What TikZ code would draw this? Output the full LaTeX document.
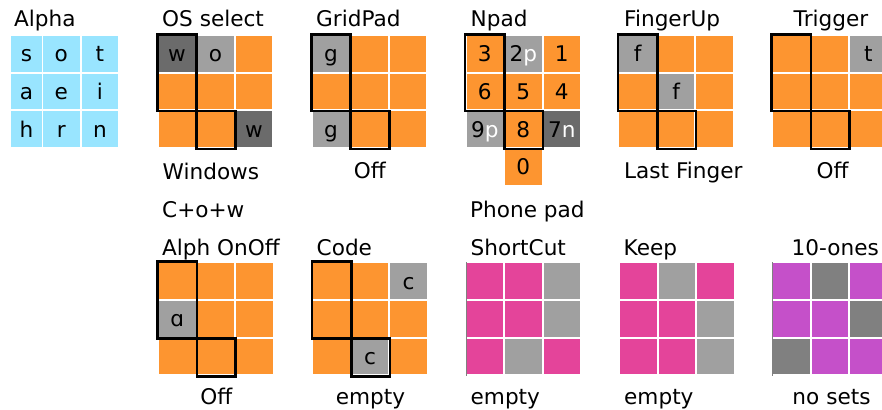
\documentclass[tikz,border=0pt]{standalone}
\usepackage{fontspec}
\setmainfont{DejaVu Sans}
\definecolor{kblue}{HTML}{99E5FF}
\definecolor{korange}{HTML}{FD9530}
\definecolor{kgrey}{HTML}{A0A0A0}
\definecolor{kdark}{HTML}{6B6B6B}
\definecolor{kmid}{HTML}{808080}
\definecolor{kpink}{HTML}{E4449A}
\definecolor{kpurple}{HTML}{C550C9}
\tikzset{
  cellbox/.style={inner sep=0pt, minimum width=36.5pt, minimum height=35.6pt,
    text height=16pt, text depth=0pt, font=\fontsize{21.6}{24}\selectfont},
  lbl/.style={inner sep=0pt, anchor=base west, font=\fontsize{21.6}{24}\selectfont},
  clbl/.style={inner sep=0pt, anchor=base, font=\fontsize{21.6}{24}\selectfont},
  outl/.style={line width=2.6pt, line join=miter, black},
  edgeln/.style={line width=0.8pt, gray}
}
\newcommand\kgrid[4]{%
  \foreach \cx/\ry/\fc/\tx in {#4} {%
    \node[cellbox, fill=\fc] (#1-\cx-\ry) at ({#2+18.25+(\cx-1)*38.5},{#3+17.8+(\ry-1)*37.7}) {\tx};}}
\newcommand\koutl[3]{%
  \draw[outl] (#2-1.4,#3+75) -- (#2-1.4,#3-1.7) -- (#2+38,#3-1.7) -- (#2+38,#3+113)
    -- (#2+76.6,#3+113) -- (#2+76.6,#3+75) -- cycle;}
\newcommand\kwp{\textcolor{white}{p}}
\newcommand\kwn{\textcolor{white}{n}}
\begin{document}
\begin{tikzpicture}[x=1pt,y=-1pt]
\useasboundingbox[fill=white] (0,0) rectangle (882,409);
% ---------- Alpha ----------
\foreach \ry/\tx in {1/s,2/a,3/h}
  \node[cellbox, fill=kblue, minimum width=31pt] (al-1-\ry) at (26.5,{36+17.8+(\ry-1)*37.7}) {\tx};
\kgrid{al}{4.6}{36}{2/1/kblue/o,3/1/kblue/t,2/2/kblue/e,3/2/kblue/i,2/3/kblue/r,3/3/kblue/n}
\node[lbl] (tAlpha) at (14,27) {Alpha};
% ---------- OS select ----------
\kgrid{os}{158.7}{36}{1/1/kdark/w,2/1/kgrey/o,3/1/korange/{},1/2/korange/{},2/2/korange/{},3/2/korange/{},1/3/korange/{},2/3/korange/{},3/3/kdark/w}
\koutl{os}{158.7}{36}
\node[lbl] (tOS) at (162,27) {OS select};
\node[lbl] (tWin) at (162.5,179) {Windows};
\node[lbl] (tCow) at (162,217) {C+o+w};
% ---------- GridPad ----------
\kgrid{gp}{312.7}{36}{1/1/kgrey/g,2/1/korange/{},3/1/korange/{},1/2/korange/{},2/2/korange/{},3/2/korange/{},1/3/kgrey/g,2/3/korange/{},3/3/korange/{}}
\koutl{gp}{312.7}{36}
\node[lbl] (tGP) at (316,27) {GridPad};
\node[clbl] (tGPoff) at (369.7,178.5) {Off};
% ---------- Npad ----------
\kgrid{np}{466.5}{36}{1/1/korange/3,2/1/kgrey/{2\kwp},3/1/korange/1,1/2/korange/6,2/2/korange/5,3/2/korange/4,1/3/kgrey/{9\kwp},2/3/korange/8,3/3/kdark/{7\kwn},2/4/korange/0}
\koutl{np}{466.5}{36}
\node[lbl] (tNP) at (470.5,27) {Npad};
\node[lbl] (tPhone) at (470,217) {Phone pad};
% ---------- FingerUp ----------
\kgrid{fu}{619.3}{36}{1/1/kgrey/f,2/1/korange/{},3/1/korange/{},1/2/korange/{},2/2/kgrey/f,3/2/korange/{},1/3/korange/{},2/3/korange/{},3/3/korange/{}}
\koutl{fu}{619.3}{36}
\node[lbl] (tFU) at (624,27) {FingerUp};
\node[lbl] (tLF) at (624,178.5) {Last Finger};
% ---------- Trigger ----------
\kgrid{tr}{773}{36}{1/1/korange/{},2/1/korange/{},3/1/kgrey/t,1/2/korange/{},2/2/korange/{},3/2/korange/{},1/3/korange/{},2/3/korange/{},3/3/korange/{}}
\koutl{tr}{773}{36}
\node[lbl] (tTR) at (793.5,27) {Trigger};
\node[clbl] (tTRoff) at (832.5,178.5) {Off};
% ---------- Alph OnOff ----------
\kgrid{ao}{159}{263.3}{1/1/korange/{},2/1/korange/{},3/1/korange/{},1/2/kgrey/ɑ,2/2/korange/{},3/2/korange/{},1/3/korange/{},2/3/korange/{},3/3/korange/{}}
\koutl{ao}{159}{263.3}
\node[lbl] (tAO) at (162,255) {Alph OnOff};
\node[clbl] (tAOoff) at (216.3,404.5) {Off};
% ---------- Code ----------
\kgrid{cd}{313.3}{263.3}{1/1/korange/{},2/1/korange/{},3/1/kgrey/c,1/2/korange/{},2/2/korange/{},3/2/korange/{},1/3/korange/{},2/3/kgrey/c,3/3/korange/{}}
\koutl{cd}{313.3}{263.3}
\node[lbl] (tCD) at (316.5,255) {Code};
\node[clbl] (tCDe) at (370.5,404.5) {empty};
% ---------- ShortCut ----------
\kgrid{sc}{466.7}{263.3}{1/1/kpink/{},2/1/kpink/{},3/1/kgrey/{},1/2/kpink/{},2/2/kpink/{},3/2/kgrey/{},1/3/kpink/{},2/3/kgrey/{},3/3/kpink/{}}
\draw[edgeln] (466,262) -- (466,376);
\node[lbl] (tSC) at (470.5,255) {ShortCut};
\node[lbl] (tSCe) at (470.5,404.5) {empty};
% ---------- Keep ----------
\kgrid{kp}{620}{263.3}{1/1/kpink/{},2/1/kgrey/{},3/1/kpink/{},1/2/kpink/{},2/2/kpink/{},3/2/kgrey/{},1/3/kpink/{},2/3/kpink/{},3/3/kgrey/{}}
\node[lbl] (tKP) at (623.5,255) {Keep};
\node[lbl] (tKPe) at (624,404.5) {empty};
% ---------- 10-ones ----------
\kgrid{tn}{773.3}{263.3}{1/1/kpurple/{},2/1/kmid/{},3/1/kpurple/{},1/2/kpurple/{},2/2/kpurple/{},3/2/kmid/{},1/3/kmid/{},2/3/kpurple/{},3/3/kpurple/{}}
\draw[edgeln] (772.6,262) -- (772.6,376);
\node[lbl] (tTN) at (791.5,255) {10-ones};
\node[clbl] (tTNe) at (831.5,404.5) {no sets};
\end{tikzpicture}
\end{document}
